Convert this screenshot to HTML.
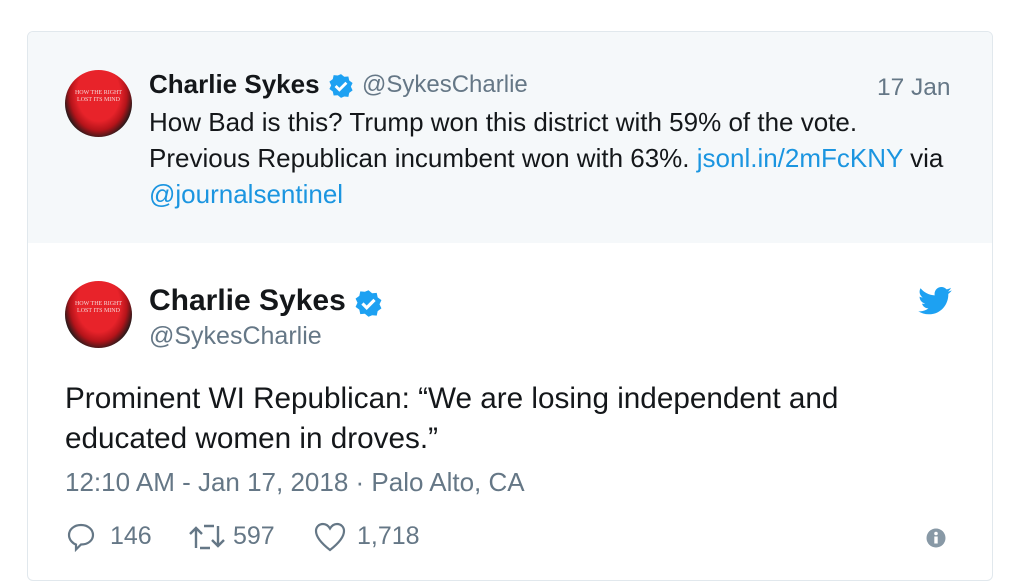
<!DOCTYPE html>
<html><head><meta charset="utf-8"><style>
body{margin:0;width:1024px;height:586px;background:#fff;font-family:"Liberation Sans",sans-serif;position:relative;overflow:hidden}
.a{position:absolute;white-space:nowrap}
.card{position:absolute;left:27px;top:31px;width:964px;height:548px;border:1px solid #e1e8ed;border-radius:6px;overflow:hidden;background:#fff}
.quote{position:absolute;left:0;top:0;width:964px;height:211px;background:#f5f8fa}
.av{position:absolute;border-radius:50%;background:radial-gradient(ellipse at 50% 35%,#e8232a 0 45%,#b5141a 60%,#1a1a1a 76%)}
.av span{position:absolute;left:0;right:0;top:20px;text-align:center;font-family:"Liberation Serif",serif;font-size:6px;color:#f3d6d6;line-height:7px}
.dark{color:#14171a}.gray{color:#657786}.blue{color:#1b95e0}
</style></head><body>
<div class="card">
<div class="quote"></div>
</div>
<div class="av" style="left:65px;top:70px;width:67px;height:67px"><span>HOW THE RIGHT<br>LOST ITS MIND</span></div>
<div class="a dark" style="left:149px;top:69px;font-size:26px;font-weight:bold">Charlie Sykes</div>
<svg class="a" style="left:328px;top:73px" width="26" height="26" viewBox="0 0 24 24"><path d="M12 1l3 2.5 3.8-.3.8 3.7 3.1 2.3-1.6 3.4 1.6 3.4-3.1 2.3-.8 3.7-3.8-.3L12 23l-3-2.5-3.8.3-.8-3.7L1.3 14.8 2.9 11.4 1.3 8l3.1-2.3.8-3.7 3.8.3z" fill="#1da1f2"/><path d="M7 12l3.5 3.5L17 9" stroke="#fff" stroke-width="2.6" fill="none"/></svg>
<div class="a gray" style="left:362px;top:71px;font-size:24px">@SykesCharlie</div>
<div class="a gray" style="left:877px;top:74px;font-size:24.5px">17 Jan</div>
<div class="a dark" style="left:149px;top:104px;font-size:26px;line-height:36px">How Bad is this? Trump won this district with 59% of the vote.<br>Previous Republican incumbent won with 63%. <span class="blue">jsonl.in/2mFcKNY</span> via<br><span class="blue">@journalsentinel</span></div>
<div class="av" style="left:65px;top:281px;width:67px;height:67px"><span>HOW THE RIGHT<br>LOST ITS MIND</span></div>
<div class="a dark" style="left:149px;top:284px;font-size:30px;font-weight:bold">Charlie Sykes</div>
<svg class="a" style="left:354px;top:289px" width="29" height="29" viewBox="0 0 24 24"><path d="M12 1l3 2.5 3.8-.3.8 3.7 3.1 2.3-1.6 3.4 1.6 3.4-3.1 2.3-.8 3.7-3.8-.3L12 23l-3-2.5-3.8.3-.8-3.7L1.3 14.8 2.9 11.4 1.3 8l3.1-2.3.8-3.7 3.8.3z" fill="#1da1f2"/><path d="M7 12l3.5 3.5L17 9" stroke="#fff" stroke-width="2.6" fill="none"/></svg>
<div class="a gray" style="left:149px;top:322px;font-size:25px">@SykesCharlie</div>
<svg class="a" style="left:918px;top:287px" width="34" height="28" viewBox="0 0 24 20"><path d="M24 2.4c-.9.4-1.8.7-2.8.8 1-.6 1.8-1.6 2.2-2.7-1 .6-2 1-3.1 1.2C19.3.7 18 0 16.6 0c-2.7 0-4.9 2.2-4.9 4.9 0 .4 0 .8.1 1.1C7.7 5.8 4.1 3.9 1.7.9c-.4.7-.7 1.6-.7 2.5 0 1.7.9 3.2 2.2 4.1-.8 0-1.6-.2-2.2-.6v.1c0 2.4 1.7 4.4 3.9 4.8-.4.1-.8.2-1.3.2-.3 0-.6 0-.9-.1.6 2 2.4 3.4 4.6 3.4-1.7 1.3-3.8 2.1-6.1 2.1-.4 0-.8 0-1.2-.1 2.2 1.4 4.8 2.2 7.5 2.2 9.1 0 14-7.5 14-14v-.6c1-.7 1.8-1.6 2.5-2.5z" fill="#1da1f2"/></svg>
<div class="a dark" style="left:65px;top:379px;font-size:29.7px;line-height:40px">Prominent WI Republican: “We are losing independent and<br>educated women in droves.”</div>
<div class="a gray" style="left:65px;top:467px;font-size:26px">12:10 AM - Jan 17, 2018 · Palo Alto, CA</div>
<svg class="a" style="left:66px;top:522px" width="30" height="30" viewBox="0 0 30 30"><path d="M15 3C8 3 3 7.5 3 13c0 5 4 8.5 7 9.5v5l5-5c7 0 12-4 12-9.5S22 3 15 3z" fill="none" stroke="#657786" stroke-width="2.2"/></svg>
<div class="a gray" style="left:110px;top:522px;font-size:25px">146</div>
<svg class="a" style="left:186px;top:522px" width="42" height="30" viewBox="0 0 42 30"><path d="M10 26V6M4 12l6-6 6 6M14 26h10M32 4v20M26 18l6 6 6-6M28 4H18" fill="none" stroke="#657786" stroke-width="2.4"/></svg>
<div class="a gray" style="left:233px;top:522px;font-size:25px">597</div>
<svg class="a" style="left:313px;top:521px" width="34" height="32" viewBox="0 0 34 32"><path d="M17 29C8 22 3 16 3 10c0-4 3-7 7-7 3 0 5.5 2 7 4.5C18.5 5 21 3 24 3c4 0 7 3 7 7 0 6-5 12-14 19z" fill="none" stroke="#657786" stroke-width="2.2"/></svg>
<div class="a gray" style="left:357px;top:522px;font-size:25px">1,718</div>
<svg class="a" style="left:926px;top:528px" width="20" height="20" viewBox="0 0 20 20"><circle cx="10" cy="10" r="9.5" fill="#8899a6"/><rect x="8.3" y="8.5" width="3.4" height="7" fill="#fff"/><circle cx="10" cy="5.5" r="1.8" fill="#fff"/></svg>
</body></html>
